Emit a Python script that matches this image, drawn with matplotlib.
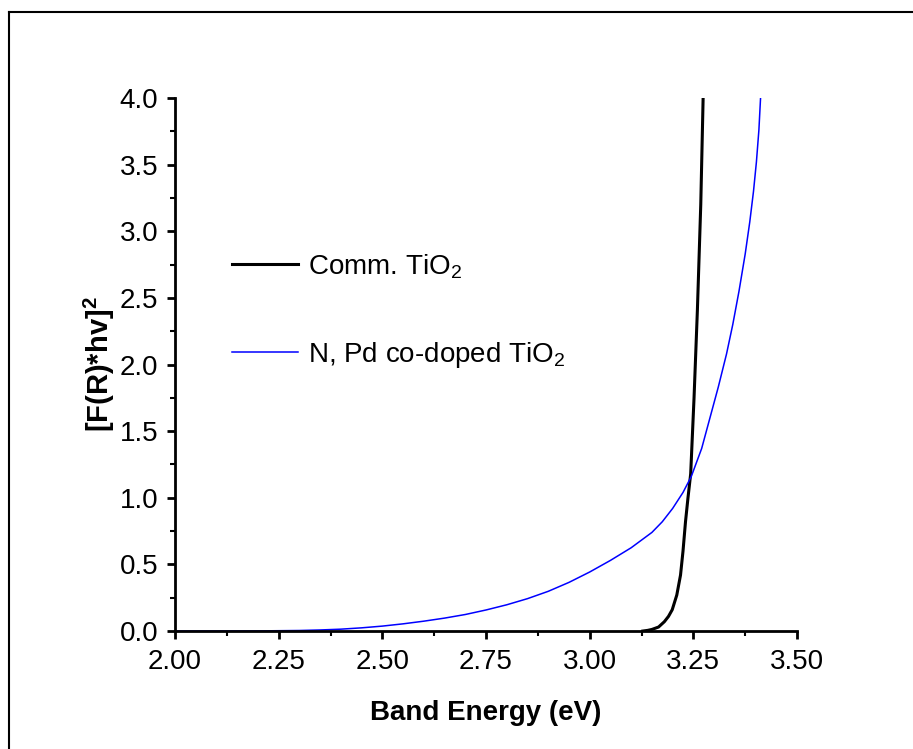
import matplotlib
matplotlib.use("Agg")
import matplotlib.pyplot as plt
from matplotlib.lines import Line2D
from matplotlib.ticker import MultipleLocator, FormatStrFormatter

plt.rcParams['font.family'] = ['Liberation Sans', 'DejaVu Sans']
plt.rcParams['mathtext.fontset'] = 'custom'
plt.rcParams['mathtext.rm'] = 'Liberation Sans'
plt.rcParams['mathtext.bf'] = 'Liberation Sans:bold'

# Commercial TiO2 (black)
comm_x = [3.128, 3.14, 3.15, 3.166, 3.18, 3.19, 3.199, 3.21, 3.219, 3.225,
          3.231, 3.237, 3.2435, 3.2516, 3.2597, 3.2678, 3.2735]
comm_y = [0.0, 0.005, 0.012, 0.03, 0.07, 0.11, 0.16, 0.27, 0.42, 0.60,
          0.82, 1.00, 1.18, 1.75, 2.41, 3.20, 4.00]

# N, Pd co-doped TiO2 (blue)
dop_x = [2.00, 2.10, 2.20, 2.30, 2.35, 2.40, 2.45, 2.50, 2.55, 2.60, 2.65,
         2.70, 2.75, 2.80, 2.85, 2.90, 2.95, 3.00, 3.05, 3.10, 3.15,
         3.175, 3.20, 3.225, 3.245, 3.27, 3.29, 3.31, 3.33, 3.345, 3.36,
         3.375, 3.386, 3.395, 3.402, 3.408, 3.412]
dop_y = [0.0, 0.0, 0.001, 0.004, 0.008, 0.014, 0.024, 0.037, 0.054, 0.074,
         0.097, 0.124, 0.158, 0.197, 0.243, 0.298, 0.365, 0.443, 0.53,
         0.625, 0.74, 0.82, 0.92, 1.04, 1.16, 1.37, 1.60, 1.83, 2.08, 2.30,
         2.55, 2.83, 3.07, 3.30, 3.52, 3.76, 4.00]

labels = ['Comm. TiO$_2$', 'N, Pd co-doped TiO$_2$']

fig = plt.figure(figsize=(9.13, 7.49), dpi=100)
ax = fig.add_axes([0.1917, 0.1575, 0.6813, 0.7117])

ax.plot(comm_x, comm_y, color='black', lw=2.2, label=labels[0])
ax.plot(dop_x, dop_y, color='#0000ff', lw=1.1, label=labels[1])

ax.set_xlim(2.0, 3.5)
ax.set_ylim(0.0, 4.0)
ax.xaxis.set_major_locator(MultipleLocator(0.25))
ax.xaxis.set_minor_locator(MultipleLocator(0.125))
ax.yaxis.set_major_locator(MultipleLocator(0.5))
ax.yaxis.set_minor_locator(MultipleLocator(0.25))
ax.xaxis.set_major_formatter(FormatStrFormatter('%.2f'))
ax.yaxis.set_major_formatter(FormatStrFormatter('%.1f'))

for s in ['top', 'right']:
    ax.spines[s].set_visible(False)
for s in ['left', 'bottom']:
    ax.spines[s].set_linewidth(2.0)
ax.tick_params(which='major', direction='out', length=6, width=2, labelsize=20, pad=6)
ax.tick_params(which='minor', direction='out', length=3.5, width=1.5)
ax.tick_params(axis='x', which='major', pad=7)

ax.set_xlabel('Band Energy (eV)', fontsize=20, fontweight='bold', labelpad=18)
ax.set_ylabel(r'[F(R)*hv]$^\mathbf{2}$', fontsize=21, fontweight='bold', labelpad=2)

leg = ax.legend(loc='center left', bbox_to_anchor=(0.0515, 0.601), frameon=False,
                fontsize=20, handlelength=2.37, handletextpad=0.36, labelspacing=2.12)

# outer frame of the original page
fig.add_artist(Line2D([9 / 913, 1.0], [1 - 12 / 749, 1 - 12 / 749],
                      transform=fig.transFigure, color='black', lw=1.5))
fig.add_artist(Line2D([9 / 913, 9 / 913], [0.0, 1 - 12 / 749],
                      transform=fig.transFigure, color='black', lw=1.5))

fig.savefig('out.png', dpi=100, facecolor='white')
